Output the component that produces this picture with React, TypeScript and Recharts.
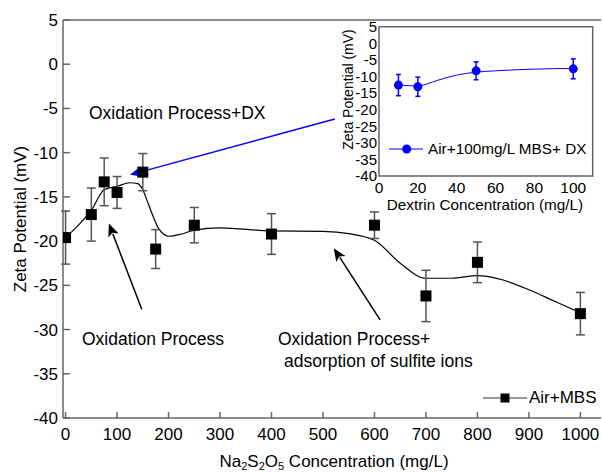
import React from 'react';
import { ComposedChart, Line, Scatter, XAxis, YAxis, ErrorBar, ReferenceLine, ReferenceArea, Legend } from 'recharts';

// main plot: Air+MBS (Na2S2O5 concentration, mg/L)
const mbsConc = [0, 50, 75, 100, 150, 175, 250, 400, 600, 700, 800, 1000];
const mbsZeta = [-19.6, -17.0, -13.3, -14.5, -12.2, -20.9, -18.2, -19.2, -18.2, -26.2, -22.4, -28.2];
const mbsErr = [3.0, 3.0, 2.7, 1.8, 2.1, 2.2, 2.0, 2.3, 1.5, 2.9, 2.3, 2.4];

// smooth guide curve
const mbsFitConc = [0, 25, 50, 75, 100, 125, 140, 150, 160, 170, 180, 190, 200, 225, 250, 300, 400, 500, 550, 600, 650, 700, 750, 800, 850, 900, 950, 1000];
const mbsFitZeta = [-19.6, -18.2, -16.5, -14.2, -13.8, -13.4, -13.5, -14.2, -15.7, -17.2, -18.5, -19.2, -19.45, -19.2, -18.75, -18.5, -18.85, -18.9, -19.15, -19.9, -22.5, -24.2, -24.2, -23.9, -24.4, -25.5, -26.8, -28.1];

// inset: Air+100mg/L MBS+ DX (dextrin concentration, mg/L)
const dxConc = [10, 20, 50, 100];
const dxZeta = [-12.6, -13.1, -8.3, -7.7];
const dxErr = [3.2, 2.9, 2.7, 3.0];
const dxFitConc = [10, 15, 20, 25, 30, 40, 50, 60, 70, 80, 90, 100];
const dxFitZeta = [-12.6, -12.75, -12.9, -12.2, -11.2, -9.6, -8.7, -8.3, -8.0, -7.8, -7.65, -7.6];

const mainXTicks = [0, 100, 200, 300, 400, 500, 600, 700, 800, 900, 1000];
const zetaTicks = [-40, -35, -30, -25, -20, -15, -10, -5, 0, 5];
const dxXTicks = [0, 20, 40, 60, 80, 100];

// annotation arrows, in data units of the main plot: [tail, head]
const arrows = [
  { from: [523, -6.2], to: [125, -12.5], color: '#0000ff' },
  { from: [148, -27.7], to: [84, -18.0], color: '#000000' },
  { from: [611, -28.9], to: [521, -20.8], color: '#000000' },
];

const FONT = '"Liberation Sans", Arial, Helvetica, sans-serif';
const AXIS = '#666666';

const mbsPoints = mbsConc.map((x, i) => ({ x, y: mbsZeta[i], err: mbsErr[i] }));
const mbsFit = mbsFitConc.map((x, i) => ({ x, y: mbsFitZeta[i] }));
const dxPoints = dxConc.map((x, i) => ({ x, y: dxZeta[i], err: dxErr[i] }));
const dxFit = dxFitConc.map((x, i) => ({ x, y: dxFitZeta[i] }));

const Square = (p: any) => <rect x={p.cx - 5.5} y={p.cy - 5.5} width={11} height={11} fill="#000" />;
const Dot = (p: any) => <circle cx={p.cx} cy={p.cy} r={4.5} fill="#0000ff" />;

const arrowShape = (color: string) => (p: any) => {
  const { x1, y1, x2, y2 } = p;
  const a = Math.atan2(y2 - y1, x2 - x1);
  const c = Math.cos(a), s = Math.sin(a);
  const len = 13, half = 5.5;
  const bx = x2 - len * c, by = y2 - len * s;
  const pts = `${x2},${y2} ${bx - half * s},${by + half * c} ${bx + 3 * c},${by + 3 * s} ${bx + half * s},${by - half * c}`;
  return (
    <g>
      <line x1={x1} y1={y1} x2={bx + 2 * c} y2={by + 2 * s} stroke={color} strokeWidth={1.5} />
      <polygon points={pts} fill={color} />
    </g>
  );
};

const MainLegend = () => (
  <div style={{ display: 'flex', alignItems: 'center', fontSize: 17, color: '#000', whiteSpace: 'nowrap', fontFamily: FONT }}>
    <svg width={45} height={12}>
      <line x1={0} y1={6} x2={44} y2={6} stroke="#333" strokeWidth={1} />
      <rect x={17.5} y={1.5} width={9} height={9} fill="#000" />
    </svg>
    <span style={{ marginLeft: 1 }}>Air+MBS</span>
  </div>
);

const DxLegend = () => (
  <div style={{ display: 'flex', alignItems: 'center', fontSize: 15.3, color: '#000', whiteSpace: 'nowrap', fontFamily: FONT }}>
    <svg width={36} height={12}>
      <line x1={0} y1={6} x2={34} y2={6} stroke="#0000ff" strokeWidth={1} />
      <circle cx={17.7} cy={6} r={4.5} fill="#0000ff" />
    </svg>
    <span style={{ marginLeft: 3 }}>Air+100mg/L MBS+ DX</span>
  </div>
);

export default function App() {
  return (
    <div style={{ position: 'absolute', left: 0, top: 0, width: 602, height: 472, background: '#fff', fontFamily: FONT, overflow: 'hidden' }}>
      <ComposedChart width={602} height={472} margin={{ top: 20, right: 1, bottom: 24, left: 0 }}>
        <XAxis
          dataKey="x"
          type="number"
          domain={[-5, 1040]}
          ticks={mainXTicks}
          interval={0}
          allowDataOverflow
          height={30}
          tickSize={-6}
          tickMargin={16}
          axisLine={{ stroke: AXIS, strokeWidth: 1.5 }}
          tickLine={{ stroke: AXIS, strokeWidth: 1.5 }}
          tick={{ fill: '#000', fontSize: 17 }}
        />
        <YAxis
          dataKey="y"
          type="number"
          domain={[-40, 5]}
          ticks={zetaTicks}
          interval={0}
          allowDataOverflow
          width={63}
          tickSize={-7}
          tickMargin={12}
          axisLine={{ stroke: AXIS, strokeWidth: 1.5 }}
          tickLine={{ stroke: AXIS, strokeWidth: 1.5 }}
          tick={{ fill: '#000', fontSize: 17 }}
        />
        <ReferenceLine y={5} stroke={AXIS} strokeWidth={1.5} />
        <Line data={mbsFit} dataKey="y" type="monotone" stroke="#000" strokeWidth={1.2} dot={false} isAnimationActive={false} legendType="none" />
        <Scatter data={mbsPoints} dataKey="y" shape={Square} isAnimationActive={false}>
          <ErrorBar dataKey="err" direction="y" width={4.5} stroke="#555" strokeWidth={1.5} />
        </Scatter>
        {arrows.map((a, i) => (
          <ReferenceLine
            key={i}
            segment={[{ x: a.from[0], y: a.from[1] }, { x: a.to[0], y: a.to[1] }]}
            shape={arrowShape(a.color)}
            ifOverflow="visible"
          />
        ))}
        <Legend
          layout="horizontal"
          verticalAlign="middle"
          align="center"
          content={MainLegend}
          wrapperStyle={{ left: 483, top: 388, width: 'auto', height: 'auto' }}
        />
      </ComposedChart>

      <svg width={602} height={472} style={{ position: 'absolute', left: 0, top: 0, pointerEvents: 'none' }} fontFamily={FONT} fill="#000">
        <text x={20} y={219} transform="rotate(-90 20 219)" textAnchor="middle" dominantBaseline="central" fontSize={17}>
          Zeta Potential (mV)
        </text>
        <text x={334} y={466.5} textAnchor="middle" fontSize={17}>
          Na<tspan fontSize={11} dy={3}>2</tspan>
          <tspan dy={-3}>S</tspan>
          <tspan fontSize={11} dy={3}>2</tspan>
          <tspan dy={-3}>O</tspan>
          <tspan fontSize={11} dy={3}>5</tspan>
          <tspan dy={-3}>{' Concentration (mg/L)'}</tspan>
        </text>
        <text x={89} y={119} fontSize={17.5}>Oxidation Process+DX</text>
        <text x={82} y={345} fontSize={17.5}>Oxidation Process</text>
        <text x={278} y={345} fontSize={17.5}>Oxidation Process+</text>
        <text x={284} y={366.5} fontSize={17.5}>adsorption of sulfite ions</text>
        <text x={348} y={89.5} transform="rotate(-90 348 89.5)" textAnchor="middle" dominantBaseline="central" fontSize={14}>
          Zeta Potential (mV)
        </text>
        <text x={485} y={209.5} textAnchor="middle" fontSize={15.3}>Dextrin Concentration (mg/L)</text>
      </svg>

      <div style={{ position: 'absolute', left: 330, top: 8 }}>
        <ComposedChart width={272} height={212} margin={{ top: 18.7, right: 9.3, bottom: 20, left: 0 }}>
          <XAxis
            dataKey="x"
            type="number"
            domain={[0, 110]}
            ticks={dxXTicks}
            interval={0}
            allowDataOverflow
            height={24}
            tickSize={0}
            tickMargin={6}
            axisLine={false}
            tickLine={false}
            tick={{ fill: '#000', fontSize: 15.5 }}
          />
          <YAxis
            dataKey="y"
            type="number"
            domain={[-40, 5]}
            ticks={zetaTicks}
            interval={0}
            allowDataOverflow
            width={49}
            tickSize={0}
            tickMargin={2}
            axisLine={false}
            tickLine={false}
            tick={{ fill: '#000', fontSize: 15 }}
          />
          <ReferenceArea x1={0} x2={110} y1={-40} y2={5} fill="none" fillOpacity={0} stroke={AXIS} strokeWidth={1.5} />
          <Line data={dxFit} dataKey="y" type="monotone" stroke="#0000ff" strokeWidth={1} dot={false} isAnimationActive={false} legendType="none" />
          <Scatter data={dxPoints} dataKey="y" shape={Dot} isAnimationActive={false}>
            <ErrorBar dataKey="err" direction="y" width={2.5} stroke="#0000ff" strokeWidth={1.5} />
          </Scatter>
          <Legend
            layout="horizontal"
            verticalAlign="middle"
            align="center"
            content={DxLegend}
            wrapperStyle={{ left: 59, top: 132, width: 'auto', height: 'auto' }}
          />
        </ComposedChart>
      </div>
    </div>
  );
}
